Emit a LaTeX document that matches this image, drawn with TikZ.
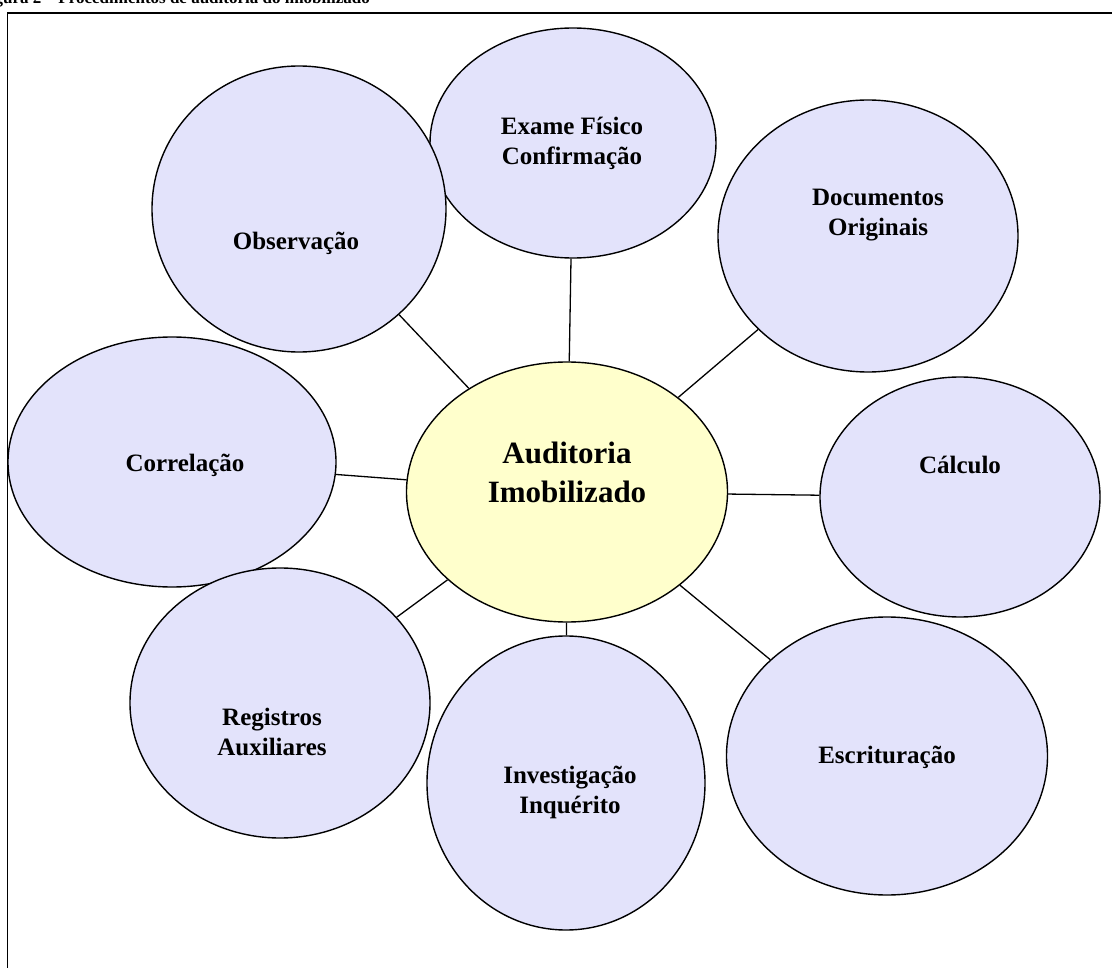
\documentclass[tikz,border=0pt]{standalone}
\usepackage{fontspec}
\setmainfont{Liberation Serif}
\usetikzlibrary{shapes.geometric}
\definecolor{lav}{HTML}{E3E3FB}
\definecolor{cyel}{HTML}{FFFFCC}
\tikzset{
  bub/.style={ellipse, draw=black, line width=1.4pt, fill=lav, inner sep=0pt},
  hub/.style={bub, fill=cyel},
  txt/.style={font=\bfseries\fontsize{25}{30}\selectfont, align=center, inner sep=0pt},
  bigtxt/.style={font=\bfseries\fontsize{31}{39}\selectfont, align=center, inner sep=0pt},
  link/.style={line width=1.3pt, draw=black}
}
\begin{document}
\begin{tikzpicture}[x=1pt,y=-1pt]
\clip (0,0) rectangle (1112,968);
\fill[white] (0,0) rectangle (1112,968);
\node[anchor=base east, font=\bfseries\fontsize{17}{20}\selectfont, inner sep=0pt] (cap) at (370,4) {Figura 2 -- Procedimentos de auditoria do imobilizado};
\draw[line width=1.8pt] (7.5,13) rectangle (1130,990);
% hub
\node[hub, minimum width=321pt, minimum height=260pt] (c) at (567,492) {};
% outer bubbles
\node[bub, minimum width=286pt, minimum height=230pt] (ex) at (573,143) {};
\node[bub, minimum width=300pt, minimum height=272pt] (doc) at (868,236) {};
\node[bub, minimum width=294pt, minimum height=286pt] (obs) at (299,209) {};
\node[bub, minimum width=328pt, minimum height=250pt] (cor) at (172,462) {};
\node[bub, minimum width=280pt, minimum height=240pt] (cal) at (960,497) {};
\node[bub, minimum width=300pt, minimum height=270pt] (reg) at (280,703) {};
\node[bub, minimum width=278pt, minimum height=294pt] (inv) at (566,783) {};
\node[bub, minimum width=321pt, minimum height=278pt] (esc) at (887,756) {};
% connectors
\draw[link] (c) -- (ex);
\draw[link] (c) -- (doc);
\draw[link] (c) -- (obs);
\draw[link] (c) -- (cor);
\draw[link] (c) -- (cal);
\draw[link] (c) -- (reg);
\draw[link] (c) -- (inv);
\draw[link] (c) -- (esc);
% labels
\node[bigtxt] (tc) at (567,472) {Auditoria\\Imobilizado};
\node[txt] (tex) at (572,143) {Exame Físico\\Confirmação};
\node[txt] (tdoc) at (878,215) {Documentos\\Originais};
\node[txt] (tobs) at (296,243) {Observação};
\node[txt] (tcor) at (185,465) {Correlação};
\node[txt] (tcal) at (960,465) {Cálculo};
\node[txt] (treg) at (272,732) {Registros\\Auxiliares};
\node[txt] (tinv) at (570,792) {Investigação\\Inquérito};
\node[txt] (tesc) at (887,757) {Escrituração};
\end{tikzpicture}
\end{document}
